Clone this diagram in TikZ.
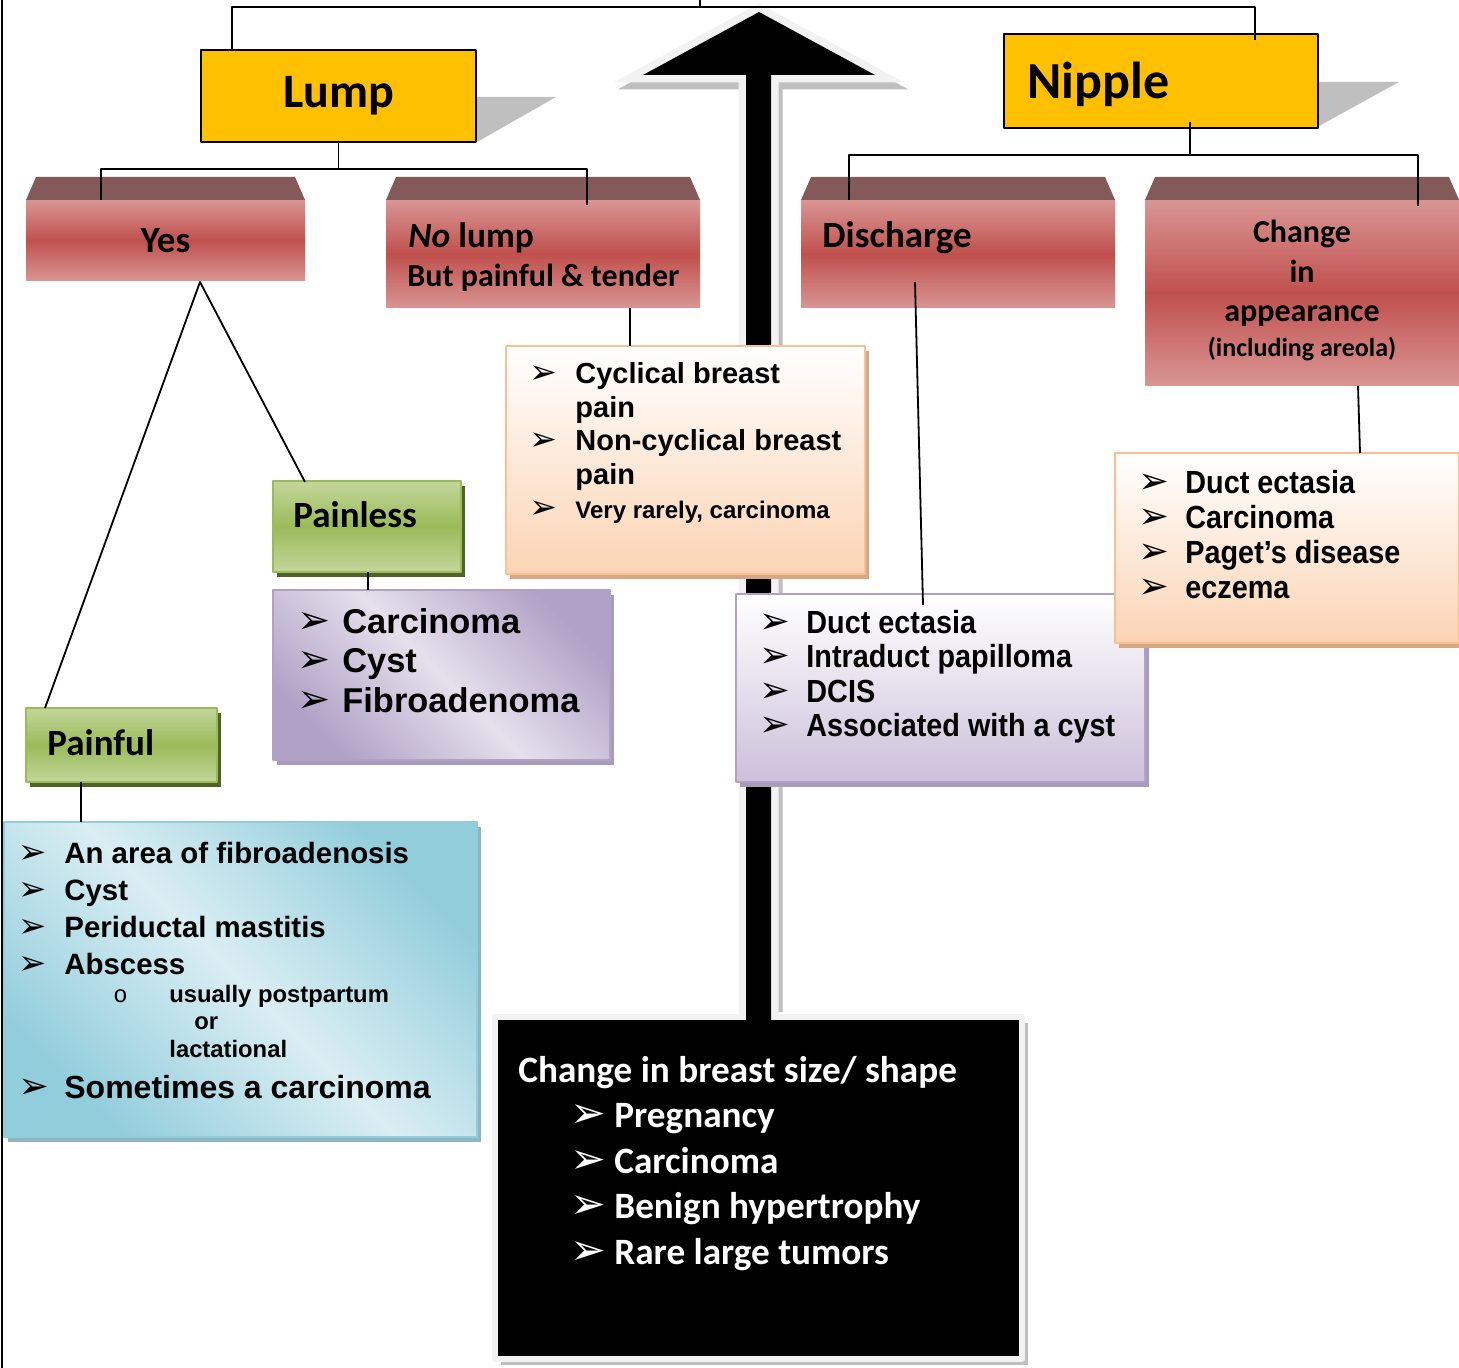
\documentclass[tikz,border=0pt]{standalone}
\usepackage{fontspec}
\setmainfont{Carlito}
\newfontfamily\arialfont{Liberation Sans}
\newfontfamily\narrowfont[FakeStretch=0.9]{Liberation Sans}
\newfontfamily\symfont{DejaVu Sans}
\newfontfamily\monofont{Liberation Mono}
\usetikzlibrary{calc,shadows}

\definecolor{lumpyellow}{HTML}{FFC000}
\definecolor{shadowgray}{HTML}{BFBFBF}
\definecolor{paleGray}{HTML}{F2F2F2}
\definecolor{capred}{HTML}{835959}
\definecolor{redlight}{HTML}{D99694}
\definecolor{reddark}{HTML}{C0504D}
\definecolor{greenlight}{HTML}{C3D69B}
\definecolor{greendark}{HTML}{9BBB59}
\definecolor{greenshadow}{HTML}{4F6228}
\definecolor{purplelight}{HTML}{E5E0EC}
\definecolor{purpledark}{HTML}{B2A1C7}
\definecolor{purpleshadow}{HTML}{A89CB8}
\definecolor{purplebottom}{HTML}{CCC0DA}
\definecolor{bluelight}{HTML}{DAEEF3}
\definecolor{bluedark}{HTML}{92CDDC}
\definecolor{blueshadow}{HTML}{8FB6C1}
\definecolor{orangelight}{HTML}{FBD4B4}
\definecolor{orangeborder}{HTML}{FAC090}
\definecolor{orangeshadow}{HTML}{D6A886}

% bullet with fixed indent
\newcommand\arr[1]{\makebox[#1][l]{{\symfont\scalebox{1.15}{➢}}}}

\begin{document}
\begin{tikzpicture}[x=0.5pt, y=-0.5pt, line join=round,
  wh/.style 2 args={minimum width=#1*0.5pt, minimum height=#2*0.5pt},
  box/.style={anchor=north west, inner sep=0pt, outer sep=0pt},
  headbox/.style={box, fill=lumpyellow, draw=black, line width=1pt},
  redbox/.style={box, top color=redlight, bottom color=redlight, middle color=reddark},
  greenbox/.style={box, top color=greenlight, bottom color=greenlight, middle color=greendark,
    draw=greendark, line width=1pt,
    drop shadow={shadow xshift=2pt, shadow yshift=-2.5pt, fill=greenshadow, opacity=1}},
  lilacbox/.style={box, top color=purpledark, bottom color=purpledark, middle color=purplelight,
    shading angle=-45, draw=purpledark, line width=1pt,
    drop shadow={shadow xshift=2pt, shadow yshift=-2.5pt, fill=purpleshadow, opacity=1}},
  skybox/.style={box, top color=bluedark, bottom color=bluedark, middle color=bluelight,
    shading angle=-45, draw=bluedark, line width=1pt,
    drop shadow={shadow xshift=2pt, shadow yshift=-2.5pt, fill=blueshadow, opacity=1}},
  peachbox/.style={box, top color=white, bottom color=orangelight, draw=orangeborder, line width=1pt,
    drop shadow={shadow xshift=2pt, shadow yshift=-2.5pt, fill=orangeshadow, opacity=1}},
  mistbox/.style={box, top color=white, bottom color=purplebottom, draw=purpledark, line width=1pt,
    drop shadow={shadow xshift=2pt, shadow yshift=-2.5pt, fill=purpleshadow, opacity=1}},
  nightbox/.style={box, fill=black, draw=paleGray, line width=3pt,
    drop shadow={shadow xshift=3pt, shadow yshift=-3pt, fill=shadowgray, opacity=1}},
  link/.style={draw=black, line width=0.9pt},
  txt/.style={anchor=base west, inner sep=0pt, align=left}]
  \useasboundingbox (0,0) rectangle (1459,1368);

  % Black box at the bottom (text placed at the baseline of its last line)
  \node[nightbox, wh={527}{342}] (sizeBox) at (495,1017) {};
  \node[txt, text=white, font=\bfseries\fontsize{18.6}{22.75}\selectfont] (sizeT) at (518,1264)
    {Change in breast size/ shape\\
     \hspace*{26pt}\arr{22pt}Pregnancy\\
     \hspace*{26pt}\arr{22pt}Carcinoma\\
     \hspace*{26pt}\arr{22pt}Benign hypertrophy\\
     \hspace*{26pt}\arr{22pt}Rare large tumors};

  % Big arrow
  \path[shift={(4,7)}, draw=shadowgray, fill=shadowgray, line width=7.5pt, line join=miter]
    (746,1005) -- (746,75) -- (643,75) -- (759,12) -- (875,75) -- (771,75) -- (771,1005);
  \draw[paleGray, line width=7.5pt, line join=miter]
    (746,1014) -- (746,75) -- (643,75) -- (759,12) -- (875,75) -- (771,75) -- (771,1014);
  \fill[black] (746,1021) -- (746,75) -- (643,75) -- (759,12) -- (875,75) -- (771,75) -- (771,1021) -- cycle;

  % Page edge
  \draw[link] (2,0) -- (2,1368);

  % Heads
  \node[headbox, wh={275}{92}, font=\bfseries\fontsize{24}{28}\selectfont] (lump) at (201,50) {Lump};
  \node[headbox, wh={314}{94}] (nipple) at (1004,34) {};
  \node[txt, font=\bfseries\fontsize{26}{30}\selectfont] (nippleT) at (1027,99) {Nipple};
  \fill[shadowgray] ($(lump.north east)+(1,47)$) -- ++(79,0) -- ($(lump.south east)+(1,0)$) -- cycle;
  \fill[shadowgray] ($(nipple.north east)+(1,48)$) -- ++(80,0) -- ($(nipple.south east)+(1,-2)$) -- cycle;

  % Top connectors
  \coordinate (root) at (700,0);
  \draw[link] (root) -- ++(0,7) coordinate (rootfork);
  \draw[link] ($(lump.north west)+(31,0)$) |- (rootfork) -| ($(nipple.north west)+(251,6)$);

  % Red boxes
  \node[redbox, wh={279}{81}, font=\bfseries\fontsize{18.5}{22}\selectfont] (yes) at (26,200) {Yes};
  \node[redbox, wh={314}{108}] (nolump) at (386,200) {};
  \node[redbox, wh={314}{108}] (disch) at (801,200) {};
  \node[redbox, wh={314}{186}] (appear) at (1145,200) {};
  \foreach \b in {yes,nolump,disch,appear}
    \fill[capred] (\b.north west) -- ($(\b.north west)+(10,-23)$)
      -- ($(\b.north east)+(-10,-23)$) -- (\b.north east) -- cycle;
  \node[txt, font=\bfseries\fontsize{17.7}{20}\selectfont] (nolumpA) at (408,248) {{\itshape No} lump};
  \node[txt, font=\bfseries\fontsize{16}{19}\selectfont] (nolumpB) at (407,287) {But painful \& tender};
  \node[txt, font=\bfseries\fontsize{18.5}{22}\selectfont] (dischT) at (822,248) {Discharge};
  \node[anchor=base, inner sep=0pt, align=center, font=\bfseries\fontsize{16}{19.75}\selectfont]
    (appearT) at (1302,322) {Change\\in\\appearance};
  \node[anchor=base, inner sep=0pt, font=\bfseries\fontsize{13}{15}\selectfont]
    (appearS) at (1302,357) {(including areola)};

  % Green boxes
  \node[greenbox, wh={188}{91}] (painless) at (273,481) {};
  \node[txt, font=\bfseries\fontsize{18.5}{22}\selectfont] (painlessT) at (293,528) {Painless};
  \node[greenbox, wh={191}{74}] (painful) at (26,708) {};
  \node[txt, font=\bfseries\fontsize{18.5}{22}\selectfont] (painfulT) at (47,755) {Painful};

  % Lists
  \node[lilacbox, wh={337}{170}] (painlessList) at (273,590) {};
  \node[txt, font=\arialfont\bfseries\fontsize{17.2}{19.75}\selectfont] (painlessL) at (297,712)
    {\arr{22.5pt}Carcinoma\\ \arr{22.5pt}Cyst\\ \arr{22.5pt}Fibroadenoma};

  \node[skybox, wh={473}{315}] (painfulList) at (4,822) {};
  \node[txt, font=\arialfont\bfseries\fontsize{14.7}{18.35}\selectfont] (painfulA) at (18,974)
    {\arr{23pt}An area of fibroadenosis\\ \arr{23pt}Cyst\\ \arr{23pt}Periductal mastitis\\ \arr{23pt}Abscess};
  \node[txt, font=\arialfont\bfseries\fontsize{11.9}{13.75}\selectfont] (painfulB) at (113,1057)
    {\makebox[28pt][l]{\monofont\mdseries o}usually postpartum\\ \hspace*{40.5pt}or\\ \hspace*{28pt}lactational};
  \node[txt, font=\arialfont\bfseries\fontsize{16}{19}\selectfont] (painfulC) at (18,1098)
    {\arr{23pt}Sometimes a carcinoma};

  \node[peachbox, wh={359}{228}] (nolumpList) at (506,346) {};
  \node[txt, font=\arialfont\bfseries\fontsize{14.5}{16.75}\selectfont] (nolumpL) at (529,518)
    {\arr{23pt}Cyclical breast\\ \hspace*{23pt}pain\\ \arr{23pt}Non-cyclical breast\\ \hspace*{23pt}pain\\
     \arr{23pt}{\fontsize{12}{14}\selectfont Very rarely, carcinoma}};

  \node[mistbox, wh={409}{188}] (dischList) at (736,594) {};
  \node[txt, font=\narrowfont\bfseries\fontsize{16}{17.15}\selectfont] (dischL) at (759,736.4)
    {\arr{23.5pt}Duct ectasia\\ \arr{23.5pt}Intraduct papilloma\\ \arr{23.5pt}DCIS\\ \arr{23.5pt}Associated with a cyst};

  \node[peachbox, wh={344}{190}] (appearList) at (1115,453) {};
  \node[txt, font=\narrowfont\bfseries\fontsize{16}{17.5}\selectfont] (appearL) at (1138,598.5)
    {\arr{23.5pt}Duct ectasia\\ \arr{23.5pt}Carcinoma\\ \arr{23.5pt}Paget’s disease\\ \arr{23.5pt}eczema};

  % Connectors
  \draw[link] (lump.south) -- ++(0,27) coordinate (lumpfork);
  \draw[link] ($(yes.north west)+(75,0)$) |- (lumpfork) -| ($(nolump.north west)+(201,5)$);
  \draw[link] ($(nipple.south west)+(186,-6)$) -- ++(0,33) coordinate (nipplefork);
  \draw[link] ($(disch.north west)+(48,0)$) |- (nipplefork) -| ($(appear.north west)+(273,6)$);
  \coordinate (yesfork) at ($(yes.south west)+(174,1)$);
  \draw[link] ($(painless.north west)+(32,1)$) -- (yesfork) -- ($(painful.north west)+(19,0)$);
  \draw[link] ($(nolump.south west)+(244,0)$) -- ($(nolumpList.north west)+(124,0)$);
  \draw[link] ($(disch.south west)+(114,-26)$) -- ($(dischList.north west)+(187,11)$);
  \draw[link] ($(appear.south west)+(213,0)$) -- ($(appearList.north west)+(245,0)$);
  \draw[link] ($(painless.south west)+(95,0)$) -- ($(painlessList.north west)+(95,0)$);
  \draw[link] ($(painful.south west)+(55,0)$) -- ($(painfulList.north west)+(77,0)$);
\end{tikzpicture}
\end{document}
